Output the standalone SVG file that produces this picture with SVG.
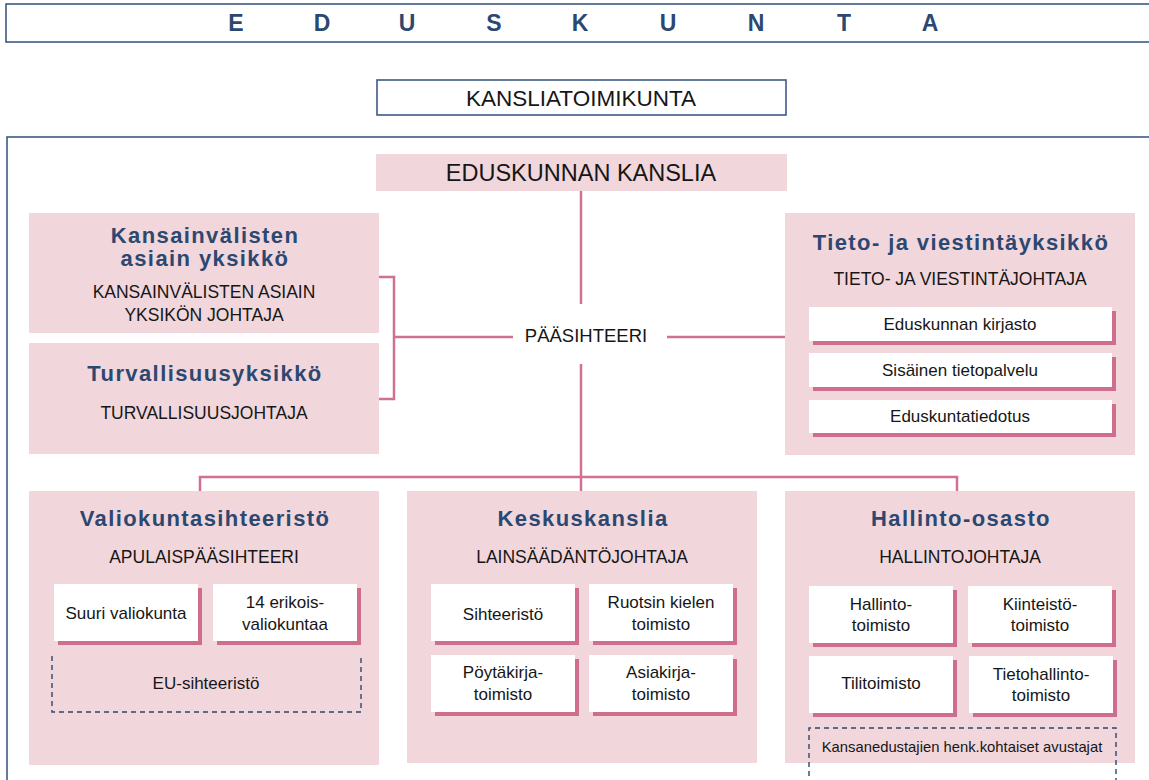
<svg xmlns="http://www.w3.org/2000/svg" width="1149" height="780" viewBox="0 0 1149 780">
<style>
.frame{fill:#fff;stroke:#3e5a84;stroke-width:1.6}
.unit{fill:#f1d6dc}
.sh{fill:#cf6d8f}
.wb{fill:#fff}
.ttl{font-family:"Liberation Sans",Arial,sans-serif;font-weight:bold;fill:#2c4870;font-size:22px;letter-spacing:1.4px;text-anchor:middle}
.hd{font-family:"Liberation Sans",Arial,sans-serif;fill:#161616;font-size:17.5px;text-anchor:middle}
.tx{font-family:"Liberation Sans",Arial,sans-serif;fill:#161616;font-size:17px;text-anchor:middle}
.sm{font-family:"Liberation Sans",Arial,sans-serif;fill:#161616;font-size:14.8px;text-anchor:middle}
.big{font-family:"Liberation Sans",Arial,sans-serif;fill:#161616;text-anchor:middle}
.dash{fill:none;stroke:#2c4870;stroke-width:1.4;stroke-dasharray:5 4}
.con{fill:none;stroke:#d07092;stroke-width:2.5}
</style>
<rect width="1149" height="780" fill="#fff"/>
<g id="eduskunta">
<rect class="frame" x="6" y="4" width="1150" height="38"/>
<text x="236 322 407 494 580 668 756 844 930" y="31" font-family="'Liberation Sans',Arial,sans-serif" font-weight="bold" font-size="23" fill="#2c4870" text-anchor="middle">EDUSKUNTA</text>
</g>
<g id="kansliatoimikunta">
<rect class="frame" x="377" y="80" width="409" height="35"/>
<text class="big" x="581" y="106" font-size="22.5">KANSLIATOIMIKUNTA</text>
</g>
<g id="kanslia-frame">
<rect class="frame" x="7" y="137" width="1150" height="660"/>
</g>
<g id="connectors">
<path class="con" d="M581 191 V304"/>
<path class="con" d="M379 277 H394 V399 H379 M394 337 H513"/>
<path class="con" d="M667 337 H785"/>
<path class="con" d="M581 364 V491"/>
<path class="con" d="M200 491 V477 H957 V491"/>
</g>
<g id="eduskunnan-kanslia">
<rect class="unit" x="376" y="154" width="411" height="37"/>
<text class="big" x="581" y="181" font-size="23.5">EDUSKUNNAN KANSLIA</text>
</g>
<g id="paasihteeri">
<text class="big" x="586" y="342" font-size="18.5">PÄÄSIHTEERI</text>
</g>
<g id="kansainvalisten">
<rect class="unit" x="29" y="213" width="350" height="120"/>
<text class="ttl" x="205" y="243">Kansainvälisten</text>
<text class="ttl" x="205" y="266">asiain yksikkö</text>
<text class="hd" x="204" y="298">KANSAINVÄLISTEN ASIAIN</text>
<text class="hd" x="204" y="321">YKSIKÖN JOHTAJA</text>
</g>
<g id="turvallisuus">
<rect class="unit" x="29" y="343" width="350" height="111"/>
<text class="ttl" x="205" y="381">Turvallisuusyksikkö</text>
<text class="hd" x="204" y="419">TURVALLISUUSJOHTAJA</text>
</g>
<g id="tieto">
<rect class="unit" x="785" y="213" width="350" height="242"/>
<text class="ttl" x="961" y="250">Tieto- ja viestintäyksikkö</text>
<text class="hd" x="960" y="285">TIETO- JA VIESTINTÄJOHTAJA</text>
<rect class="sh" x="813" y="311" width="303" height="34"/>
<rect class="wb" x="809" y="307" width="303" height="34"/>
<text class="tx" x="960" y="330">Eduskunnan kirjasto</text>
<rect class="sh" x="813" y="357" width="303" height="34"/>
<rect class="wb" x="809" y="353" width="303" height="34"/>
<text class="tx" x="960" y="376">Sisäinen tietopalvelu</text>
<rect class="sh" x="813" y="404" width="303" height="33"/>
<rect class="wb" x="809" y="400" width="303" height="33"/>
<text class="tx" x="960" y="422">Eduskuntatiedotus</text>
</g>
<g id="valiokunta">
<rect class="unit" x="29" y="491" width="350" height="274"/>
<text class="ttl" x="205" y="526">Valiokuntasihteeristö</text>
<text class="hd" x="204" y="563">APULAISPÄÄSIHTEERI</text>
<rect class="sh" x="58" y="588" width="144" height="57"/>
<rect class="wb" x="54" y="584" width="144" height="57"/>
<text class="tx" x="126" y="619">Suuri valiokunta</text>
<rect class="sh" x="217" y="588" width="144" height="57"/>
<rect class="wb" x="213" y="584" width="144" height="57"/>
<text class="tx" x="285" y="608">14 erikois-</text>
<text class="tx" x="285" y="630">valiokuntaa</text>
<path class="dash" d="M52 656 V712 H361 V656"/>
<text class="tx" x="206" y="689">EU-sihteeristö</text>
</g>
<g id="keskuskanslia">
<rect class="unit" x="407" y="491" width="350" height="272"/>
<text class="ttl" x="583" y="526">Keskuskanslia</text>
<text class="hd" x="582" y="563">LAINSÄÄDÄNTÖJOHTAJA</text>
<rect class="sh" x="435" y="588" width="144" height="57"/>
<rect class="wb" x="431" y="584" width="144" height="57"/>
<text class="tx" x="503" y="620">Sihteeristö</text>
<rect class="sh" x="593" y="588" width="144" height="57"/>
<rect class="wb" x="589" y="584" width="144" height="57"/>
<text class="tx" x="661" y="608">Ruotsin kielen</text>
<text class="tx" x="661" y="630">toimisto</text>
<rect class="sh" x="435" y="659" width="144" height="57"/>
<rect class="wb" x="431" y="655" width="144" height="57"/>
<text class="tx" x="503" y="678">Pöytäkirja-</text>
<text class="tx" x="503" y="700">toimisto</text>
<rect class="sh" x="593" y="659" width="144" height="57"/>
<rect class="wb" x="589" y="655" width="144" height="57"/>
<text class="tx" x="661" y="678">Asiakirja-</text>
<text class="tx" x="661" y="700">toimisto</text>
</g>
<g id="hallinto">
<rect class="unit" x="785" y="491" width="350" height="272"/>
<text class="ttl" x="961" y="526">Hallinto-osasto</text>
<text class="hd" x="960" y="563">HALLINTOJOHTAJA</text>
<rect class="sh" x="813" y="590" width="144" height="57"/>
<rect class="wb" x="809" y="586" width="144" height="57"/>
<text class="tx" x="881" y="610">Hallinto-</text>
<text class="tx" x="881" y="631">toimisto</text>
<rect class="sh" x="972" y="590" width="144" height="57"/>
<rect class="wb" x="968" y="586" width="144" height="57"/>
<text class="tx" x="1040" y="610">Kiinteistö-</text>
<text class="tx" x="1040" y="631">toimisto</text>
<rect class="sh" x="813" y="660" width="144" height="57"/>
<rect class="wb" x="809" y="656" width="144" height="57"/>
<text class="tx" x="881" y="689">Tilitoimisto</text>
<rect class="sh" x="973" y="660" width="144" height="57"/>
<rect class="wb" x="969" y="656" width="144" height="57"/>
<text class="tx" x="1041" y="680">Tietohallinto-</text>
<text class="tx" x="1041" y="701">toimisto</text>
<path class="dash" d="M809 785 V728 H1116 V785"/>
<text class="sm" x="962" y="752">Kansanedustajien henk.kohtaiset avustajat</text>
</g>
</svg>
